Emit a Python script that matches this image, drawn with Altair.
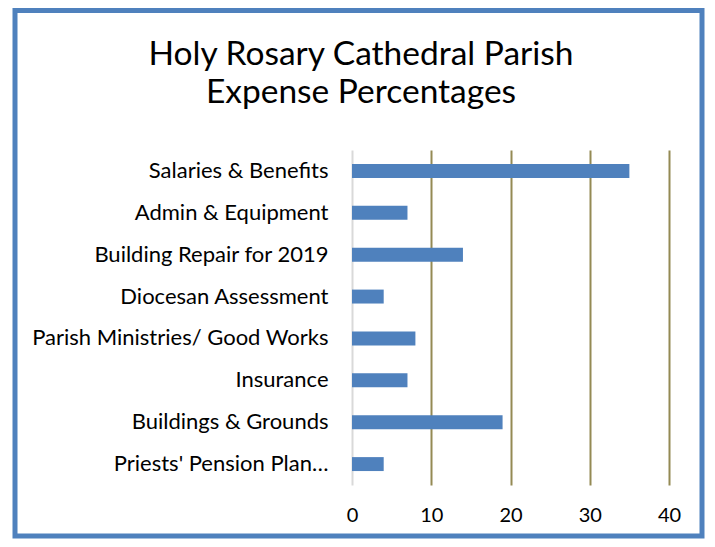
import altair as alt
import pandas as pd

categories = [
    "Salaries & Benefits",
    "Admin & Equipment",
    "Building Repair for 2019",
    "Diocesan Assessment",
    "Parish Ministries/ Good Works",
    "Insurance",
    "Buildings & Grounds",
    "Priests' Pension Plan…",
]
values = [35, 7, 14, 4, 8, 7, 19, 4]
x_ticks = [0, 10, 20, 30, 40]
title_lines = ["Holy Rosary Cathedral Parish", "Expense Percentages"]

FONT = "Lato"
df = pd.DataFrame({"category": categories, "value": values})

bars = alt.Chart(df).mark_bar(color="#4F81BD").encode(
    x=alt.X(
        "value:Q",
        scale=alt.Scale(domain=[0, 40], nice=False),
        axis=alt.Axis(
            values=x_ticks,
            title=None,
            domain=False,
            ticks=False,
            grid=True,
            gridColor={"condition": {"test": "datum.value === 0", "value": "#D9D9D9"}, "value": "#948A54"},
            gridWidth=2,
            labelFontSize=20,
            labelFont=FONT,
            labelColor="#000000",
            labelPadding=20,
            labelFlush=False,
        ),
    ),
    y=alt.Y(
        "category:N",
        sort=categories,
        scale=alt.Scale(paddingInner=0.667, paddingOuter=0.333),
        axis=alt.Axis(
            title=None,
            domain=False,
            ticks=False,
            labelFontSize=22,
            labelFont=FONT,
            labelColor="#000000",
            labelPadding=24,
            labelLimit=400,
        ),
    ),
)

frame_df = pd.DataFrame({"k": [0]})
frame = alt.Chart(frame_df).mark_rect(
    fill=None, stroke="#4F81BD", strokeWidth=5
).encode(
    x=alt.value(-337), x2=alt.value(350), y=alt.value(-139.5), y2=alt.value(386)
)

t1 = alt.Chart(frame_df).mark_text(
    text=title_lines[0], font=FONT, fontSize=33.5, align="center", baseline="alphabetic", color="#000000"
).encode(x=alt.value(9), y=alt.value(-85))
t2 = alt.Chart(frame_df).mark_text(
    text=title_lines[1], font=FONT, fontSize=33.5, align="center", baseline="alphabetic", color="#000000"
).encode(x=alt.value(9), y=alt.value(-47))

chart = alt.layer(bars, frame, t1, t2).properties(
    width=317,
    height=335,
    autosize=alt.AutoSizeParams(type="none"),
    padding={"left": 344, "top": 142, "right": 38, "bottom": 54},
).configure(background="#FFFFFF").configure_view(stroke=None)

chart.save("out.html", embed_options={"renderer": "svg", "actions": False})
